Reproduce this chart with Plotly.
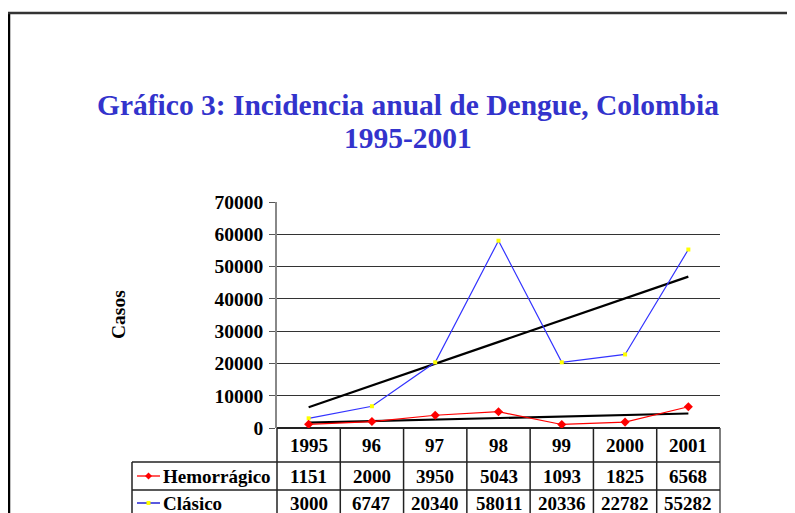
import numpy as np
import plotly.graph_objects as go

years = ["1995", "96", "97", "98", "99", "2000", "2001"]
hemorragico = [1151, 2000, 3950, 5043, 1093, 1825, 6568]
clasico = [3000, 6747, 20340, 58011, 20336, 22782, 55282]
series_names = ["Hemorrágico", "Clásico"]
title_lines = ["Gráfico 3: Incidencia anual de Dengue, Colombia", "1995-2001"]

OFF = 8  # the page body adds an 8px margin
W, H = 795 - OFF, 513 - OFF
L, R, T, B = 277, 720, 202, 428   # plot area, in window pixels
SERIF = "Liberation Serif"


def px(x):
    return (x - L) / (R - L)


def py(y):
    return (B - y) / (B - T)


xi = np.arange(len(years))
trend_h = np.polyval(np.polyfit(xi, hemorragico, 1), xi)
trend_c = np.polyval(np.polyfit(xi, clasico, 1), xi)

fig = go.Figure()
fig.add_trace(go.Scatter(x=xi, y=trend_c, mode="lines", line=dict(color="black", width=2.2),
                         showlegend=False, hoverinfo="skip"))
fig.add_trace(go.Scatter(x=xi, y=trend_h, mode="lines", line=dict(color="black", width=2.2),
                         showlegend=False, hoverinfo="skip"))
fig.add_trace(go.Scatter(x=xi, y=clasico, mode="lines+markers", name=series_names[1],
                         line=dict(color="#3333ff", width=1.2),
                         marker=dict(symbol="square", size=4, color="#ffff00"),
                         showlegend=False))
fig.add_trace(go.Scatter(x=xi, y=hemorragico, mode="lines+markers", name=series_names[0],
                         line=dict(color="#ff0000", width=1.2),
                         marker=dict(symbol="diamond", size=7, color="#ff0000"),
                         showlegend=False))

shapes = []
line_col = "#222222"
ncol = len(years)
# table grid
for i in range(ncol + 1):
    shapes.append(dict(type="line", xref="paper", yref="paper",
                       x0=i / ncol, x1=i / ncol, y0=0, y1=py(520),
                       line=dict(color="#555555" if i == ncol else line_col, width=1.5)))
shapes.append(dict(type="line", xref="paper", yref="paper", x0=px(132), x1=px(132),
                   y0=py(462), y1=py(520), line=dict(color=line_col, width=1.5)))
for yy in (462, 490):
    shapes.append(dict(type="line", xref="paper", yref="paper", x0=px(132), x1=1,
                       y0=py(yy), y1=py(yy), line=dict(color=line_col, width=1.5)))
# outer frame
shapes.append(dict(type="line", xref="paper", yref="paper", x0=px(9), x1=px(9),
                   y0=py(12), y1=py(530), line=dict(color="black", width=2.5)))
shapes.append(dict(type="line", xref="paper", yref="paper", x0=px(8), x1=px(810),
                   y0=py(13), y1=py(13), line=dict(color="#333333", width=2.5)))

# legend keys inside the table
key_rows = [(476, "#ff0000", "#ff0000", "d"), (503, "#0000cc", "#ffff00", "s")]
for yy, col, mcol, msym in key_rows:
    shapes.append(dict(type="line", xref="paper", yref="paper", x0=px(137), x1=px(160),
                       y0=py(yy), y1=py(yy), line=dict(color=col, width=1.3)))
    cx, cy = 148.5, yy
    if msym == "d":
        path = (f"M {px(cx-3.5)} {py(cy)} L {px(cx)} {py(cy-3.5)} "
                f"L {px(cx+3.5)} {py(cy)} L {px(cx)} {py(cy+3.5)} Z")
    else:
        path = (f"M {px(cx-2)} {py(cy-2)} L {px(cx+2)} {py(cy-2)} "
                f"L {px(cx+2)} {py(cy+2)} L {px(cx-2)} {py(cy+2)} Z")
    shapes.append(dict(type="path", xref="paper", yref="paper", path=path,
                       fillcolor=mcol, line=dict(color=mcol, width=0)))

annotations = []
cell_font = dict(family=SERIF, size=19, color="black", weight="bold")
title_font = dict(family=SERIF, size=29.5, color="#3333cc", weight="bold")


def note(x, y, text, font, xanchor="center", **kw):
    annotations.append(dict(xref="paper", yref="paper", x=x, y=y, text=text,
                            xanchor=xanchor, yanchor="middle", showarrow=False,
                            font=font, **kw))


for i, yr in enumerate(years):
    xc = (i + 0.5) / ncol
    note(xc, py(445), yr, cell_font)
    note(xc, py(476), str(hemorragico[i]), cell_font)
    note(xc, py(503), str(clasico[i]), cell_font)
for name, yy in zip(series_names, (476, 503)):
    note(px(161), py(yy), name, cell_font, xanchor="left")
note(px(118), py(315), "Casos", dict(cell_font, size=19.5), textangle=-90)
note(px(408), py(105), title_lines[0], title_font)
note(px(408), py(138), title_lines[1], title_font)

fig.update_layout(
    width=W, height=H,
    margin=dict(l=L - OFF, r=W - (R - OFF), t=T - OFF, b=H - (B - OFF)),
    paper_bgcolor="white", plot_bgcolor="white",
    showlegend=False,
    shapes=shapes, annotations=annotations,
    xaxis=dict(range=[-0.5, ncol - 0.5], showticklabels=False, showgrid=False,
               zeroline=False, showline=False, ticks=""),
    yaxis=dict(range=[0, 70000], dtick=10000, tickformat="d", showgrid=True,
               gridcolor="#333333", gridwidth=1, zeroline=True, zerolinecolor="#222222",
               zerolinewidth=2, showline=True, linecolor="#888888", linewidth=1.5,
               ticks="outside", ticklen=6, tickcolor="#555555", ticklabelstandoff=2,
               tickfont=dict(family=SERIF, size=19.5, color="black", weight="bold")),
)

fig.write_html("out.html")
